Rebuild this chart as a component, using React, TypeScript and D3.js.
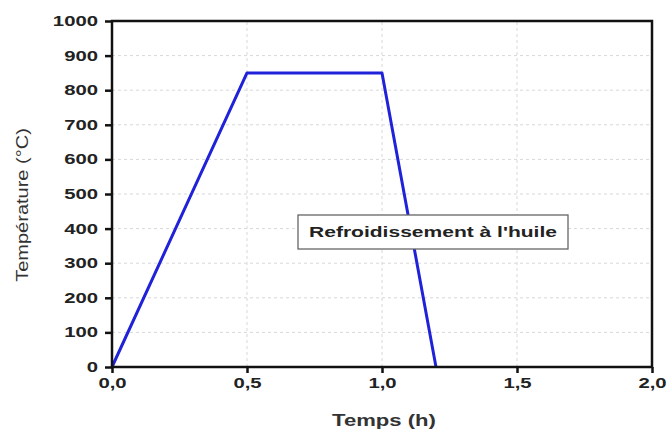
import { useEffect, useRef } from 'react';
import * as d3 from 'd3';

// profil du traitement thermique
const tempsH: number[] = [0, 0.5, 1.0, 1.2];
const temperatureC: number[] = [0, 850, 850, 0];
const xTicks: number[] = [0, 0.5, 1.0, 1.5, 2.0];
const yTicks: number[] = [0, 100, 200, 300, 400, 500, 600, 700, 800, 900, 1000];
const annotation = "Refroidissement à l'huile";

export default function App() {
    const ref = useRef<SVGSVGElement>(null);

    useEffect(() => {
        if (!ref.current) return;
        const svg = d3.select(ref.current);
        svg.selectAll('*').remove();

        const width = 667;
        const height = 432;
        const margin = { top: 21, right: 15, bottom: 65, left: 112 };
        const x = d3.scaleLinear().domain([0, 2]).range([margin.left, width - margin.right]);
        const y = d3.scaleLinear().domain([0, 1000]).range([height - margin.bottom, margin.top]);
        const font = '"Liberation Sans", Arial, sans-serif';
        const sx = 1.45; // le texte de l'original est étiré en largeur

        svg.append('rect').attr('width', width).attr('height', height).attr('fill', '#fff');

        // grille
        const grid = svg.append('g').attr('stroke', '#d8d8d8').attr('stroke-dasharray', '3,3').attr('stroke-width', 1);
        grid.selectAll('line.gy')
            .data(yTicks.slice(1, -1))
            .join('line')
            .attr('x1', x(0)).attr('x2', x(2))
            .attr('y1', d => y(d)).attr('y2', d => y(d));
        grid.selectAll('line.gx')
            .data(xTicks.slice(1, -1))
            .join('line')
            .attr('y1', y(0)).attr('y2', y(1000))
            .attr('x1', d => x(d)).attr('x2', d => x(d));

        // courbe
        const line = d3.line<number>()
            .x((_, i) => x(tempsH[i]))
            .y(d => y(d));
        svg.append('path')
            .datum(temperatureC)
            .attr('d', line)
            .attr('fill', 'none')
            .attr('stroke', '#1f22d8')
            .attr('stroke-width', 3)
            .attr('stroke-linejoin', 'round');

        // cadre
        svg.append('rect')
            .attr('x', x(0)).attr('y', y(1000))
            .attr('width', x(2) - x(0)).attr('height', y(0) - y(1000))
            .attr('fill', 'none').attr('stroke', '#111').attr('stroke-width', 2.5);

        const xAxis = svg.append('g')
            .attr('transform', `translate(0,${y(0)})`)
            .call(d3.axisBottom(x).tickValues(xTicks).tickSize(6).tickPadding(5)
                .tickFormat(d => d3.format('.1f')(d as number).replace('.', ',')));
        const yAxis = svg.append('g')
            .attr('transform', `translate(${x(0)},0)`)
            .call(d3.axisLeft(y).tickValues(yTicks).tickSize(7).tickFormat(d3.format('d')));

        [xAxis, yAxis].forEach(a => {
            a.select('.domain').remove();
            a.selectAll('line').attr('stroke', '#111').attr('stroke-width', 2.5);
            a.selectAll('text')
                .attr('fill', '#222')
                .attr('font-family', font)
                .attr('font-weight', 'bold')
                .attr('font-size', 14);
        });
        xAxis.selectAll('text').attr('transform', `scale(${sx},1)`);
        yAxis.selectAll('text').attr('x', 0).attr('transform', `translate(-14,0) scale(${sx},1)`);

        // titres des axes
        svg.append('text')
            .attr('transform', `translate(${(x(0) + x(2)) / 2 + 2},426) scale(1.3,1)`)
            .attr('text-anchor', 'middle')
            .attr('font-family', font).attr('font-size', 17).attr('font-weight', 'bold')
            .attr('fill', '#333')
            .text('Temps (h)');
        svg.append('text')
            .attr('transform', `translate(28,205) rotate(-90) scale(1.25,1)`)
            .attr('text-anchor', 'middle')
            .attr('font-family', font).attr('font-size', 16)
            .attr('fill', '#333')
            .text('Température (°C)');

        // annotation
        const ax = 433;
        const ay = 232;
        svg.append('rect')
            .attr('x', ax - 135).attr('y', ay - 17)
            .attr('width', 270).attr('height', 34)
            .attr('fill', '#fff').attr('stroke', '#666').attr('stroke-width', 1.3);
        svg.append('text')
            .attr('transform', `translate(${ax},${ay + 5}) scale(${sx},1)`)
            .attr('text-anchor', 'middle')
            .attr('font-family', font).attr('font-size', 14.5).attr('font-weight', 'bold')
            .attr('fill', '#222')
            .text(annotation);
    }, []);

    return <svg ref={ref} width={667} height={432} style={{ position: 'absolute', left: 0, top: 0 }} />;
}
